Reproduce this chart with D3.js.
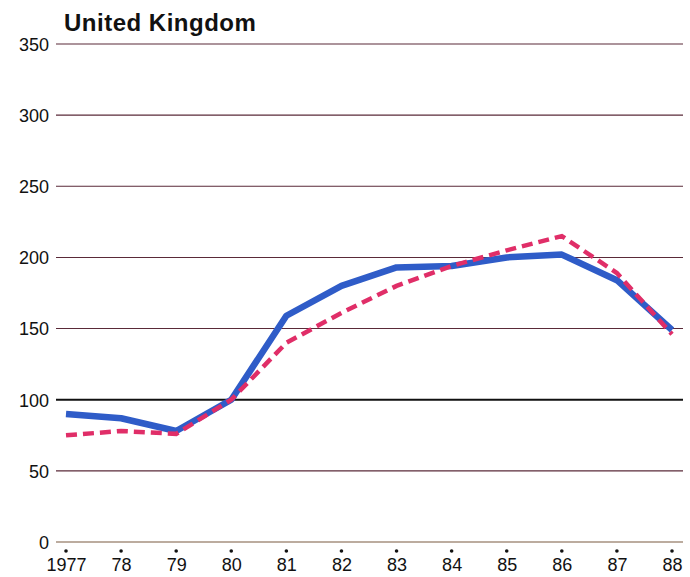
<!DOCTYPE html>
<html><head><meta charset="utf-8">
<script src="https://cdn.jsdelivr.net/npm/d3@7"></script>
<style>
html,body{margin:0;padding:0;background:#fff;}
svg{display:block;}
text{font-family:"Liberation Sans",Arial,Helvetica,sans-serif;}
</style></head>
<body>
<script>
const title = "United Kingdom";
const years = ["1977","78","79","80","81","82","83","84","85","86","87","88"];
const seriesBlue = [90, 87, 78, 100, 159, 180, 193, 194, 200, 202, 184, 149];
const seriesRed  = [75, 78, 76, 100, 140, 161, 180, 194, 205, 215, 189, 146];
const yTicks = [0, 50, 100, 150, 200, 250, 300, 350];

const W = 690, H = 577;
const svg = d3.select("body").append("svg").attr("width", W).attr("height", H);

const x = d3.scalePoint().domain(years).range([66, 672]);
const y = d3.scaleLinear().domain([0, 350]).range([542, 44]);

// gridlines
const grid = svg.append("g");
grid.selectAll("line").data(yTicks).join("line")
  .attr("x1", 56).attr("x2", 683)
  .attr("y1", d => y(d)).attr("y2", d => y(d))
  .attr("stroke", d => d === 100 ? "#111" : (d === 0 ? "#7a5a40" : "#5a2a38"))
  .attr("stroke-width", d => d === 100 ? 2 : 1.1);

// y axis labels
const yAxis = d3.axisLeft(y).tickValues(yTicks).tickSize(0).tickPadding(0);
const gy = svg.append("g").attr("transform", "translate(49,0)").call(yAxis);
gy.select(".domain").remove();
gy.selectAll("text").attr("font-size", 18).attr("fill", "#111").attr("dy", "0.35em");

// x axis: dots and labels
const xAxis = d3.axisBottom(x).tickSize(0).tickPadding(0);
const gx = svg.append("g").attr("transform", "translate(0,558)").call(xAxis);
gx.select(".domain").remove();
gx.selectAll("text").attr("font-size", 18).attr("fill", "#111").attr("dy", "0.71em");
svg.append("g").selectAll("circle").data(years).join("circle")
  .attr("cx", d => x(d)).attr("cy", 551).attr("r", 1.8).attr("fill", "#111");

// lines
const line = d3.line().x((d, i) => x(years[i])).y(d => y(d));
svg.append("path").datum(seriesBlue)
  .attr("d", line).attr("fill", "none")
  .attr("stroke", "#2f5cc8").attr("stroke-width", 6.5)
  .attr("stroke-linejoin", "round");
svg.append("path").datum(seriesRed)
  .attr("d", line).attr("fill", "none")
  .attr("stroke", "#e02e68").attr("stroke-width", 4.5)
  .attr("stroke-dasharray", "11,6");

// title
svg.append("text").attr("x", 64).attr("y", 31)
  .attr("font-size", 24).attr("font-weight", "bold").attr("fill", "#111")
  .attr("letter-spacing", 0.5)
  .text(title);
</script>
</body></html>
